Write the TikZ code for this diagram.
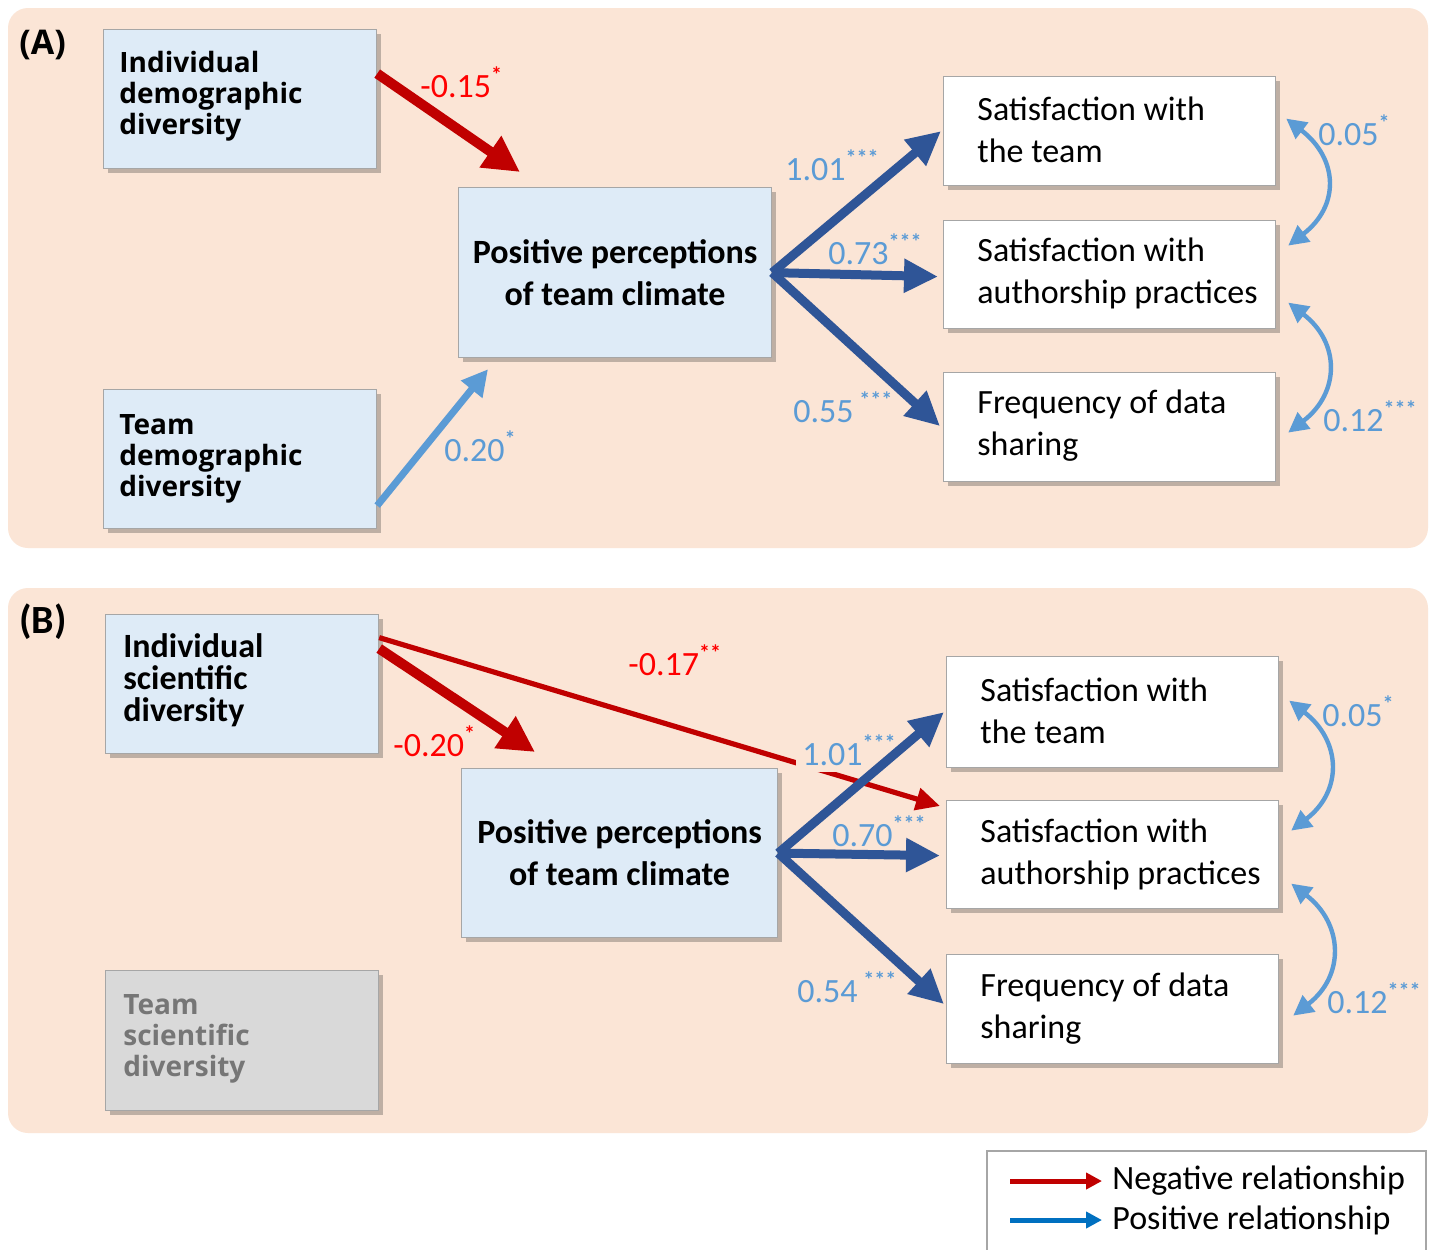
\documentclass[tikz,border=0pt]{standalone}
\usepackage{fontspec}
\setmainfont{Carlito}
\newfontfamily\opensans{Open Sans}
\usetikzlibrary{arrows.meta,shadows,calc}
\definecolor{peach}{HTML}{FBE5D6}
\definecolor{boxblue}{HTML}{DEEBF7}
\definecolor{boxgray}{HTML}{D9D9D9}
\definecolor{darkred}{HTML}{C00000}
\definecolor{lblred}{HTML}{FF0000}
\definecolor{lightblue}{HTML}{5B9BD5}
\definecolor{darkblue}{HTML}{2F5597}
\definecolor{legblue}{HTML}{0070C0}
\definecolor{graytext}{HTML}{767676}
\definecolor{boxborder}{HTML}{A6A6A6}
\newcommand\sigmark[1]{\raisebox{0.45em}{\fontsize{11}{11}\selectfont\bfseries #1}}
\begin{document}
\begin{tikzpicture}[x=0.5pt,y=-0.5pt,
  box/.style={draw=boxborder, line width=0.6pt, fill=boxblue, anchor=north west, inner sep=0pt,
    drop shadow={shadow xshift=2pt, shadow yshift=-2pt, opacity=0.3, fill=black!80}},
  wbox/.style={box, fill=white},
  gbox/.style={box, fill=boxgray},
  lefttxt/.style={anchor=west, align=left, inner sep=0pt, font=\opensans\bfseries\fontsize{14}{15.5}\selectfont},
  boldtxt/.style={anchor=west, align=left, inner sep=0pt, font=\bfseries\fontsize{17}{16}\selectfont},
  caltxt/.style={anchor=west, align=left, inner sep=0pt, font=\fontsize{17}{21}\selectfont},
  centtxt/.style={align=center, font=\bfseries\fontsize{17}{21}\selectfont},
  num/.style={anchor=west, inner sep=1pt, font=\fontsize{17}{20}\selectfont, text=lightblue},
  negnum/.style={num, text=lblred},
  redthick/.style={draw=darkred, line width=5pt, -{Triangle[length=18pt,width=18pt]}},
  redthin/.style={draw=darkred, line width=2.6pt, -{Triangle[length=12pt,width=11pt]}},
  bluethick/.style={draw=darkblue, line width=4.5pt, -{Triangle[length=17pt,width=16pt]}},
  bluelight/.style={draw=lightblue, line width=3.5pt, -{Triangle[length=13pt,width=13pt]}},
  corr/.style={draw=lightblue, line width=2.2pt, {Triangle[length=10pt,width=10pt]}-{Triangle[length=10pt,width=10pt]}},
  legred/.style={draw=darkred, line width=2.5pt, -{Triangle[length=8pt,width=8pt]}},
  legblu/.style={draw=legblue, line width=2.5pt, -{Triangle[length=8pt,width=8pt]}}
]
\useasboundingbox (0,0) rectangle (1435,1249);
\fill[white] (0,0) rectangle (1435,1249);
% panels
\fill[peach, rounded corners=10pt] (8,8) rectangle (1428,548);
\fill[peach, rounded corners=10pt] (8,588) rectangle (1428,1133);

%================ Panel A
\node[anchor=west, inner sep=0pt, font=\opensans\bfseries\fontsize{17}{20}\selectfont] (labA) at (19,45) {(A)};
\node[box, minimum width=136.5pt, minimum height=69.5pt] (iddA) at (103,29) {};
\node[lefttxt] (iddAt) at ($(iddA.west)+(16,-3)$) {Individual\\demographic\\diversity};
\node[box, minimum width=136.5pt, minimum height=69.5pt] (tddA) at (103,389) {};
\node[lefttxt] (tddAt) at ($(tddA.west)+(16,0)$) {Team\\demographic\\diversity};
\node[box, minimum width=156.5pt, minimum height=85pt, centtxt] (pptcA) at (458,187) {Positive perceptions\\of team climate};
\node[wbox, minimum width=166pt, minimum height=54.5pt] (swtA) at (943,76) {};
\node[caltxt] (swtAt) at ($(swtA.west)+(34,-1)$) {Satisfaction with\\the team};
\node[wbox, minimum width=166pt, minimum height=54pt] (swapA) at (943,220) {};
\node[caltxt] (swapAt) at ($(swapA.west)+(34,-1)$) {Satisfaction with\\authorship practices};
\node[wbox, minimum width=166pt, minimum height=54.5pt] (fdsA) at (943,372) {};
\node[caltxt] (fdsAt) at ($(fdsA.west)+(34,-1)$) {Frequency of data\\sharing};

\draw[redthick] ($(iddA.east)+(0,-25.5)$) -- ($(pptcA.north west)+(62,-15)$);
\draw[bluelight] ($(tddA.east)+(0,46.5)$) -- ($(pptcA.south west)+(30,11)$);
\draw[bluethick] (pptcA.east) -- ($(swtA.west)+(-2,0)$);
\draw[bluethick] (pptcA.east) -- ($(swapA.west)+(-5,2)$);
\draw[bluethick] (pptcA.east) -- ($(fdsA.west)+(-3,-1)$);
\draw[corr] ($(swtA.east)+(10,-12.5)$) .. controls +(52,40) and +(52,-40) .. ($(swapA.east)+(12,-29)$);
\draw[corr] ($(swapA.east)+(12,28)$) .. controls +(52,40) and +(52,-40) .. ($(fdsA.east)+(12,5.5)$);

\node[negnum] (nA1) at (418,82) {-0.15\sigmark{*}};
\node[num] (nA2) at (442,446) {0.20\sigmark{*}};
\node[num] (nA3) at (783,165) {1.01\sigmark{***}};
\node[num] (nA4) at (826,249) {0.73\sigmark{***}};
\node[num] (nA5) at (791,407) {0.55\,\sigmark{***}};
\node[num] (nA6) at (1316,130) {0.05\sigmark{*}};
\node[num] (nA7) at (1321,416) {0.12\sigmark{***}};

%================ Panel B
\node[anchor=west, inner sep=0pt, font=\bfseries\fontsize{20}{22}\selectfont] (labB) at (19,622) {(B)};
\node[box, minimum width=136.5pt, minimum height=69.5pt] (isdB) at (105,614) {};
\node[boldtxt] (isdBt) at ($(isdB.west)+(18,-4)$) {Individual\\scientific\\diversity};
\node[gbox, minimum width=136.5pt, minimum height=70pt] (tsdB) at (105,970) {};
\node[lefttxt, text=graytext] (tsdBt) at ($(tsdB.west)+(18,-2)$) {Team\\scientific\\diversity};
\node[box, minimum width=158pt, minimum height=84.5pt, centtxt] (pptcB) at (461,768) {Positive perceptions\\of team climate};
\node[wbox, minimum width=166pt, minimum height=55.5pt] (swtB) at (946,656) {};
\node[caltxt] (swtBt) at ($(swtB.west)+(34,-1)$) {Satisfaction with\\the team};
\node[wbox, minimum width=166pt, minimum height=54pt] (swapB) at (946,800) {};
\node[caltxt] (swapBt) at ($(swapB.west)+(34,0)$) {Satisfaction with\\authorship practices};
\node[wbox, minimum width=166pt, minimum height=54.5pt] (fdsB) at (946,954) {};
\node[caltxt] (fdsBt) at ($(fdsB.west)+(34,-1)$) {Frequency of data\\sharing};

\draw[redthin] ($(isdB.east)+(0,-46.5)$) -- ($(swapB.north west)+(-6,6)$);
\node[num, fill=peach, inner sep=3pt] (nB3) at (796,750) {1.01\sigmark{***}};
\draw[redthick] ($(isdB.east)+(0,-35.5)$) -- ($(pptcB.north west)+(74,-16)$);
\draw[bluethick] (pptcB.east) -- ($(swtB.west)+(-2,0)$);
\draw[bluethick] (pptcB.east) -- ($(swapB.west)+(-6,1)$);
\draw[bluethick] (pptcB.east) -- ($(fdsB.west)+(-2,-5)$);
\draw[corr] ($(swtB.east)+(10,-11.5)$) .. controls +(52,40) and +(52,-40) .. ($(swapB.east)+(12,-24)$);
\draw[corr] ($(swapB.east)+(12,29)$) .. controls +(52,40) and +(52,-40) .. ($(fdsB.east)+(14,6.5)$);

\node[negnum] (nB1) at (626,660) {-0.17\sigmark{**}};
\node[negnum] (nB2) at (391,741) {-0.20\sigmark{*}};
\node[num] (nB4) at (830,831) {0.70\sigmark{***}};
\node[num] (nB5) at (795,987) {0.54\,\sigmark{***}};
\node[num] (nB6) at (1320,711) {0.05\sigmark{*}};
\node[num] (nB7) at (1325,998) {0.12\sigmark{***}};

%================ Legend
\node[draw=boxborder, line width=0.8pt, fill=white, anchor=north west, inner sep=0pt,
      minimum width=219.5pt, minimum height=60pt] (legend) at (986,1150) {};
\coordinate (negS) at (1010,1181);
\coordinate (negE) at (1102,1181);
\coordinate (posS) at (1010,1220);
\coordinate (posE) at (1102,1220);
\draw[legred] (negS) -- (negE);
\draw[legblu] (posS) -- (posE);
\node[caltxt] (negT) at (1112,1181) {Negative relationship};
\node[caltxt] (posT) at (1112,1220) {Positive relationship};
\end{tikzpicture}
\end{document}
